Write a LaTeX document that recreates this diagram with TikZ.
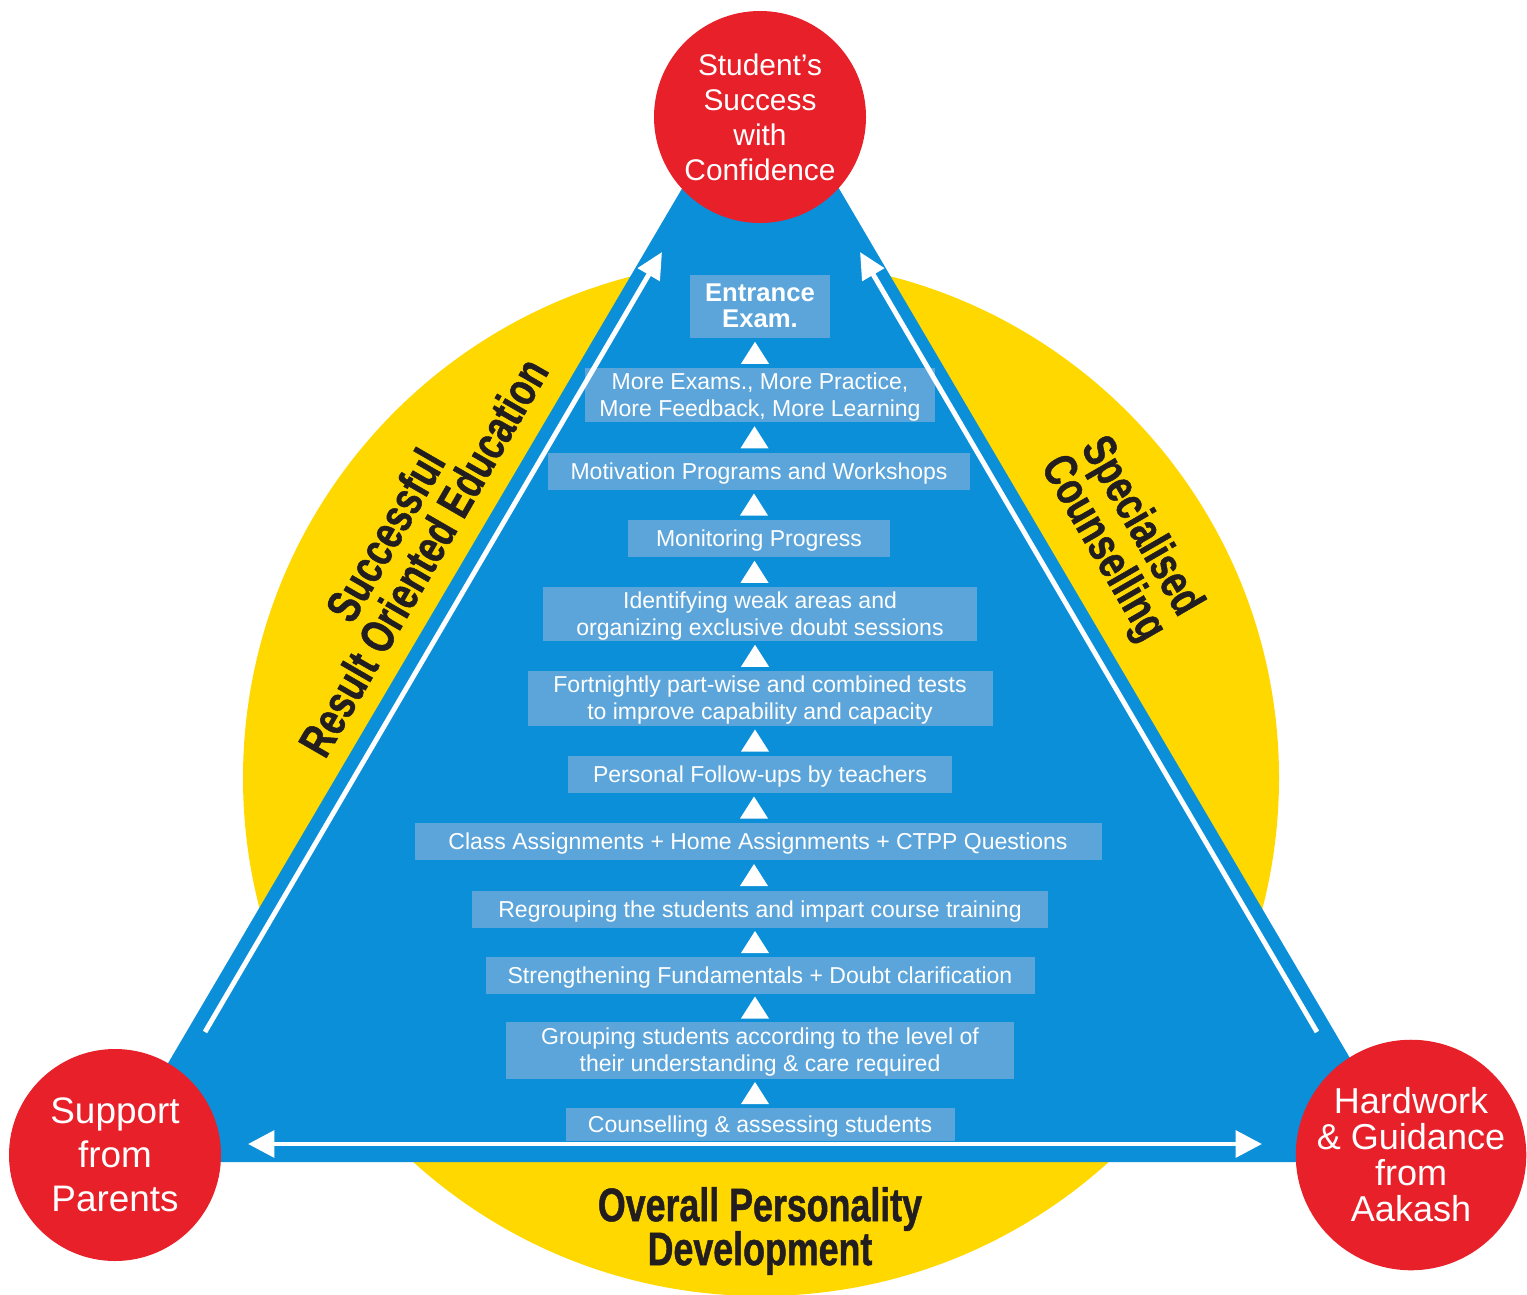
\documentclass[tikz,border=0pt]{standalone}
\usepackage{fontspec}
\setmainfont{Liberation Sans}
\newfontfamily\condfont[FakeStretch=0.76,FakeBold=1]{Liberation Sans Bold}
\usetikzlibrary{arrows.meta,calc}
\definecolor{ybg}{HTML}{FFD800}
\definecolor{tblue}{HTML}{0A8FD8}
\definecolor{bbox}{HTML}{5CA5DA}
\definecolor{cred}{HTML}{E8202A}
\definecolor{ink}{HTML}{221E1F}
\tikzset{
  sz/.style 2 args={minimum width=#1*0.02cm,minimum height=#2*0.02cm},
  box/.style={fill=bbox,text=white,inner sep=0pt,align=center,text depth=0pt,
    font=\fontsize{13.1}{15.4}\selectfont},
  redc/.style={circle,fill=cred,text=white,inner sep=0pt,align=center,
    minimum size=212*0.02cm},
  ytext/.style={text=ink,inner sep=0pt,align=center,
    font=\condfont\fontsize{26.8}{25}\selectfont},
  warrow/.style={draw=white,line width=2.8pt,
    -{Triangle[length=15pt,width=14pt]}},
  wdarrow/.style={draw=white,line width=2.8pt,
    {Triangle[length=15pt,width=15pt]}-{Triangle[length=15pt,width=15pt]}},
}
\begin{document}
\begin{tikzpicture}[x=0.02cm,y=-0.02cm]
\useasboundingbox (0,0) rectangle (1527,1294);
\fill[white] (0,0) rectangle (1527,1294);
% yellow disc
\fill[ybg] (761,778) circle (518);
% blue triangle
\fill[tblue] (110,1162) -- (1411,1162) -- (760.5,55) -- cycle;
% step boxes
\node[box,sz={140}{63},font=\bfseries\fontsize{14.6}{14.8}\selectfont] (b1) at (760,306) {Entrance\\Exam.};
\node[box,sz={350}{54}] (b2) at (760,395) {More Exams., More Practice,\\More Feedback, More Learning};
\node[box,sz={422}{37}] (b3) at (759,471) {Motivation Programs and Workshops};
\node[box,sz={262}{37}] (b4) at (759,538) {Monitoring Progress};
\node[box,sz={434}{54}] (b5) at (760,614) {Identifying weak areas and\\organizing exclusive doubt sessions};
\node[box,sz={465}{55}] (b6) at (760,698) {Fortnightly part-wise and combined tests\\to improve capability and capacity};
\node[box,sz={384}{37}] (b7) at (760,774) {Personal Follow-ups by teachers};
\node[box,sz={687}{37}] (b8) at (758,841) {Class Assignments + Home Assignments + CTPP Questions};
\node[box,sz={576}{37}] (b9) at (760,909) {Regrouping the students and impart course training};
\node[box,sz={549}{37}] (b10) at (760,975) {Strengthening Fundamentals + Doubt clarification};
\node[box,sz={508}{57}] (b11) at (760,1050) {Grouping students according to the level of\\their understanding \& care required};
\node[box,sz={389}{33}] (b12) at (760,1124) {Counselling \& assessing students};
% small up-triangles between boxes
\foreach \lo/\hi in {b2/b1,b3/b2,b4/b3,b5/b4,b6/b5,b7/b6,b8/b7,b9/b8,b10/b9,b11/b10,b12/b11}
  \fill[white] ($(\hi.south)!0.5!(\lo.north)$) ++(-5,-11) -- ++(14,22) -- ++(-28,0) -- cycle;
% white arrows
\coordinate (la0) at (205,1032); \coordinate (la1) at (662,252);
\coordinate (ra0) at (1317,1032); \coordinate (ra1) at (860,252);
\coordinate (ba0) at (248,1144); \coordinate (ba1) at (1262,1144);
\draw[warrow] (la0) -- (la1);
\draw[warrow] (ra0) -- (ra1);
\draw[wdarrow] (ba0) -- (ba1);
% red circles
\node[redc,font=\fontsize{17}{19.9}\selectfont] (top) at (760,117) {Student’s\\Success\\with\\Confidence};
\node[redc,font=\fontsize{21}{25}\selectfont] (left) at (115,1155) {Support\\from\\Parents};
\node[redc,font=\fontsize{20.5}{20.5}\selectfont] (right) at (1411,1155) {Hardwork\\\&~Guidance\\from\\Aakash};
% yellow labels
\node[ytext,rotate=60] (ledu) at (404,546) {Successful\\Result Oriented Education};
\node[ytext,rotate=-60] (rcoun) at (1121,538) {Specialised\\Counselling};
\node[ytext] (bdev) at (760,1231) {Overall Personality\\Development};
\end{tikzpicture}
\end{document}
